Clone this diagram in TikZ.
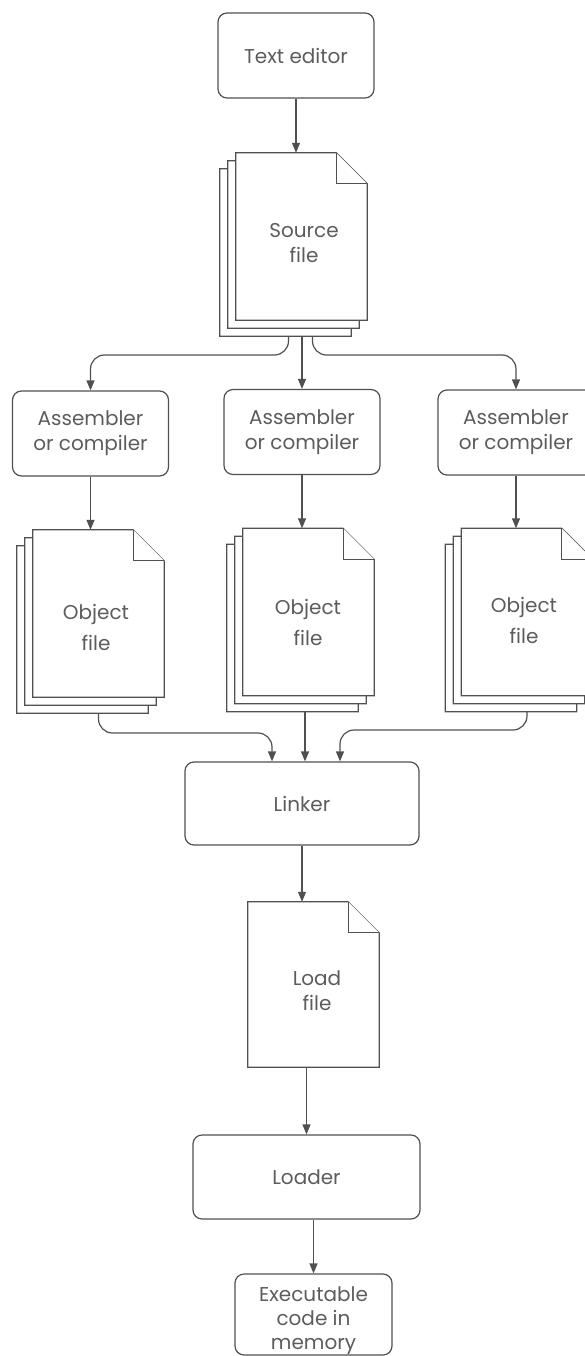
\documentclass[tikz,border=0pt]{standalone}
\usepackage{fontspec}
\setmainfont{Poppins}
\usetikzlibrary{arrows.meta,calc}
\pgfdeclarelayer{bg}
\pgfsetlayers{bg,main}
\definecolor{ln}{HTML}{505050}
\definecolor{tx}{HTML}{5C5C5C}
\newcommand{\earpage}[1]{%
  \filldraw[pageline] (#1.north west) -- ([xshift=-31pt]#1.north east) -- ([yshift=-31pt]#1.north east) -- (#1.south east) -- (#1.south west) -- cycle;
  \draw[pageline] ([xshift=-31pt]#1.north east) |- ([yshift=-31pt]#1.north east);}
\begin{document}
\begin{tikzpicture}[x=1pt,y=-1pt,
  box/.style={draw=ln, line width=1.2pt, rounded corners=9pt, minimum width=156pt, minimum height=85pt, align=center, text=tx, font=\fontsize{20}{25}\selectfont, inner sep=0pt},
  pg/.style={minimum width=131pt, minimum height=167pt, inner sep=0pt},
  pageline/.style={draw=ln, line width=1.2pt, fill=white, line join=miter},
  lbl/.style={align=center, text=tx, font=\fontsize{20}{25}\selectfont, inner sep=0pt},
  objlbl/.style={lbl, font=\fontsize{20}{31}\selectfont},
  arr/.style={draw=ln, line width=1.2pt, -{Triangle[length=10pt,width=8pt]}}]
\useasboundingbox (0,0) rectangle (585,1356);

% editor
\node[box] (ed) at (296,55.5) {Text editor};
% source file
\node[pg] (src) at (301.5,236.5) {};
\node[pg] (srcb) at (293.5,244.5) {};
\node[pg] (srcc) at (285.5,252.5) {};
\node[lbl] (srct) at (304,243) {Source\\file};
% assemblers
\node[box] (asm1) at (90.5,433.5) {Assembler\\or compiler};
\node[box] (asm2) at (302,432) {Assembler\\or compiler};
\node[box] (asm3) at (516,432.5) {Assembler\\or compiler};
% object files
\node[pg] (obj1) at (98.5,613.5) {};
\node[pg] (obj1b) at (90.5,621.5) {};
\node[pg] (obj1c) at (82.5,629.5) {};
\node[objlbl] (obj1t) at (96,627) {Object\\file};
\node[pg] (obj2) at (308.5,612) {};
\node[pg] (obj2b) at (300.5,620) {};
\node[pg] (obj2c) at (292.5,628) {};
\node[objlbl] (obj2t) at (308,622) {Object\\file};
\node[pg] (obj3) at (527,612) {};
\node[pg] (obj3b) at (519,620) {};
\node[pg] (obj3c) at (511,628) {};
\node[objlbl] (obj3t) at (524,620) {Object\\file};
% linker
\node[box, minimum width=234pt, minimum height=83pt] (lnk) at (302,803.5) {Linker};
% load file
\node[pg, minimum height=165pt] (load) at (313.5,984.5) {};
\node[lbl] (loadt) at (317,991) {Load\\file};
% loader
\node[box, minimum width=227pt, minimum height=84pt] (ldr) at (306.5,1177) {Loader};
% executable
\node[box, minimum width=157pt, minimum height=81pt] (exe) at (313.5,1314.5) {};
\node[lbl, font=\fontsize{20}{24}\selectfont] (exet) at (313.5,1321) {Executable\\code in\\memory};

\begin{pgfonlayer}{bg}
  \earpage{srcc}\earpage{srcb}\earpage{src}
  \earpage{obj1c}\earpage{obj1b}\earpage{obj1}
  \earpage{obj2c}\earpage{obj2b}\earpage{obj2}
  \earpage{obj3c}\earpage{obj3b}\earpage{obj3}
  \earpage{load}
\end{pgfonlayer}

\coordinate (ja) at (0,355);
\coordinate (jb) at (0,733);
\coordinate (jc) at (0,730);
\coordinate (lin1) at ([xshift=-30pt]lnk.north);
\coordinate (lin2) at ([xshift=3pt]lnk.north);
\coordinate (lin3) at ([xshift=38pt]lnk.north);

\draw[arr] (ed.south) -- (ed.south |- src.north);
\draw[arr, rounded corners=14pt] ([xshift=3pt]srcc.south) |- (ja -| asm1.north) -- (asm1.north);
\draw[arr] (srcc.south -| asm2.north) -- (asm2.north);
\draw[arr, rounded corners=14pt] ([xshift=27pt]srcc.south) |- (ja -| asm3.north) -- (asm3.north);

\draw[arr] (asm1.south) -- (asm1.south |- obj1.north);
\draw[arr] (asm2.south) -- (asm2.south |- obj2.north);
\draw[arr] (asm3.south) -- (asm3.south |- obj3.north);

\draw[arr, rounded corners=14pt] (obj1c.south -| obj1.south) |- (jb -| lin1) -- (lin1);
\draw[arr] (obj2c.south -| lin2) -- (lin2);
\draw[arr, rounded corners=14pt] (obj3c.south -| obj3.south) |- (jc -| lin3) -- (lin3);

\draw[arr] (lnk.south) -- (lnk.south |- load.north);
\draw[arr] (load.south -| ldr.north) -- (ldr.north);
\draw[arr] (ldr.south -| exe.north) -- (exe.north);
\end{tikzpicture}
\end{document}
